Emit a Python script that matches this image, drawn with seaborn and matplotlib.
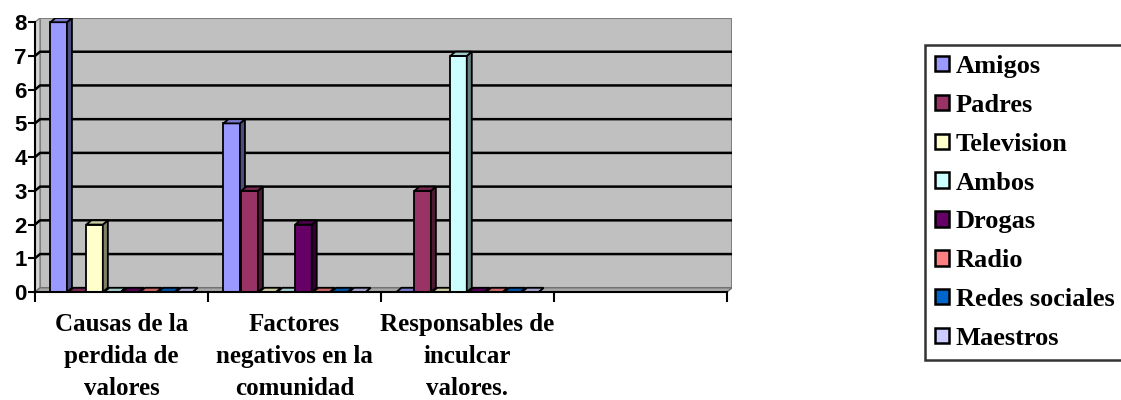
import numpy as np
import pandas as pd
import matplotlib
matplotlib.use("Agg")
import matplotlib.pyplot as plt
from matplotlib.patches import Polygon, Rectangle
import seaborn as sns

# datos del grafico
categorias = ["Causas de la\nperdida de\nvalores",
              "Factores\nnegativos en la\ncomunidad",
              "Responsables de\ninculcar\nvalores."]
series = ["Amigos", "Padres", "Television", "Ambos", "Drogas",
          "Radio", "Redes sociales", "Maestros"]
amigos = [8, 5, 0]
padres = [0, 3, 3]
television = [2, 0, 0]
ambos = [0, 0, 7]
drogas = [0, 2, 0]
radio = [0, 0, 0]
redes_sociales = [0, 0, 0]
maestros = [0, 0, 0]
colores = ["#9999FF", "#993366", "#FFFFCC", "#CCFFFF", "#660066",
           "#FF8080", "#0066CC", "#CCCCFF"]
y_ticks = [0, 1, 2, 3, 4, 5, 6, 7, 8]

valores = [amigos, padres, television, ambos, drogas, radio, redes_sociales, maestros]
filas = []
for s, vals in zip(series, valores):
    for c, v in zip(categorias, vals):
        filas.append({"categoria": c, "serie": s, "valor": v})
df = pd.DataFrame(filas)

sns.set_theme(style="white")
plt.rcParams["font.family"] = ["Liberation Serif", "DejaVu Serif"]
plt.rcParams["text.color"] = "black"
plt.rcParams["xtick.color"] = "black"
plt.rcParams["ytick.color"] = "black"

fig = plt.figure(figsize=(11.21, 4.0), dpi=100)
ax = fig.add_axes([35 / 1121, 1 - 292 / 400, 697 / 1121, 274 / 400])
ax.set_facecolor("none")

sns.barplot(data=df, x="categoria", y="valor", hue="serie", order=categorias,
            hue_order=series, palette=colores, saturation=1, width=0.83, gap=0.08,
            edgecolor="black", linewidth=1.3, ax=ax, zorder=5)
barras = sorted([p for p in ax.patches if isinstance(p, Rectangle)], key=lambda p: p.get_x())

# profundidad 3D (en unidades de datos)
dx, dy = 0.029, 0.125
x0, x1 = -0.5, 3.5
ymax = 8

# paredes
ax.add_patch(Polygon([(x0 + dx, dy), (x1 + dx, dy), (x1 + dx, ymax + dy), (x0 + dx, ymax + dy)],
                     closed=True, facecolor="#C0C0C0", edgecolor="#808080", lw=1.5, zorder=1))
ax.add_patch(Polygon([(x0, 0), (x0 + dx, dy), (x0 + dx, ymax + dy), (x0, ymax)],
                     closed=True, facecolor="#D4D4D4", edgecolor="#808080", lw=1, zorder=1))
ax.add_patch(Polygon([(x0, 0), (x1, 0), (x1 + dx, dy), (x0 + dx, dy)],
                     closed=True, facecolor="#A8A8A8", edgecolor="#707070", lw=1, zorder=1))
for k in y_ticks[1:-1]:
    ax.plot([x0, x0 + dx, x1 + dx], [k, k + dy, k + dy], color="black", lw=1.8, zorder=2)

# caras laterales y superiores de las barras
for i, p in enumerate(barras):
    x, w, h = p.get_x(), p.get_width(), p.get_height()
    col = np.array(p.get_facecolor()[:3])
    z = 5 + i * 0.01
    p.set_zorder(z)
    ax.add_patch(Polygon([(x + w, 0), (x + w + dx, dy), (x + w + dx, h + dy), (x + w, h)],
                         closed=True, facecolor=col * 0.5, edgecolor="black", lw=1.3, zorder=z))
    ax.add_patch(Polygon([(x, h), (x + dx, h + dy), (x + w + dx, h + dy), (x + w, h)],
                         closed=True, facecolor=col * 0.8, edgecolor="black", lw=1.3, zorder=z))

ax.set_xlim(x0, x1 + dx)
ax.set_ylim(0, ymax + dy)
ax.set_xlabel("")
ax.set_ylabel("")
ax.grid(False)

for s in ["top", "right"]:
    ax.spines[s].set_visible(False)
ax.spines["left"].set_bounds(0, ymax)
ax.spines["bottom"].set_bounds(x0, x1)
for s in ["left", "bottom"]:
    ax.spines[s].set_color("black")
    ax.spines[s].set_linewidth(1.5)
    ax.spines[s].set_zorder(10)

ax.set_yticks(y_ticks)
ax.set_yticklabels([str(t) for t in y_ticks], fontfamily="Liberation Sans",
                   fontweight="bold", fontsize=16)
ax.tick_params(axis="y", left=True, length=5, width=1.5, color="black", pad=1)

ax.set_xticks(range(len(categorias)))
ax.set_xticklabels(categorias, fontweight="bold", fontsize=18, linespacing=1.5)
ax.set_xticks(np.arange(x0, x1 + 0.1, 1), minor=True)
ax.tick_params(axis="x", which="major", length=0, pad=15)
ax.tick_params(axis="x", which="minor", bottom=True, length=7, width=1.5, color="black")

sns.move_legend(ax, loc="upper left", bbox_to_anchor=(925 / 1121, 1 - 45 / 400),
                bbox_transform=fig.transFigure, title=None, frameon=True, fancybox=False,
                prop={"weight": "bold", "size": 19}, handlelength=0.53, handleheight=0.53,
                handletextpad=0.25, labelspacing=0.6, borderpad=0.38, borderaxespad=0)
leg = ax.get_legend()
leg.get_frame().set_edgecolor("black")
leg.get_frame().set_linewidth(1.8)
for hnd in leg.get_patches():
    hnd.set_linewidth(1.8)

fig.savefig("out.png", dpi=100)
